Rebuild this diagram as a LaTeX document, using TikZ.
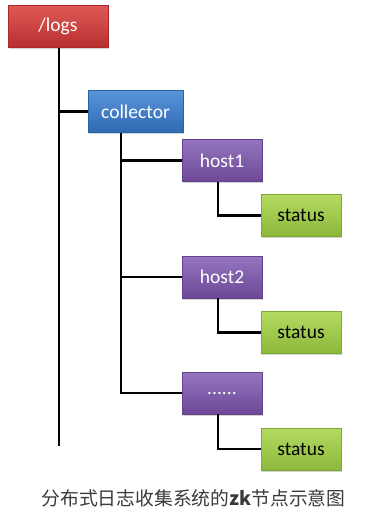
\documentclass[tikz,border=0pt]{standalone}
\usepackage{fontspec}
\setmainfont{Carlito}
\newfontfamily\cjk{Noto Sans CJK SC}
\usetikzlibrary{shadows}
\definecolor{redtop}{HTML}{DE5A55}
\definecolor{redbot}{HTML}{B82E30}
\definecolor{redline}{HTML}{A8292B}
\definecolor{bluetop}{HTML}{5A95DB}
\definecolor{bluebot}{HTML}{2F69B3}
\definecolor{blueline}{HTML}{2C61A6}
\definecolor{purptop}{HTML}{9575C0}
\definecolor{purpbot}{HTML}{6D4896}
\definecolor{purpline}{HTML}{64438A}
\definecolor{greentop}{HTML}{B5DA62}
\definecolor{greenbot}{HTML}{8CB83A}
\definecolor{greenline}{HTML}{7FA935}
\definecolor{captext}{HTML}{3A3A3A}
\tikzset{
  box/.style={rectangle, minimum width=80pt, minimum height=42pt,
    inner sep=0pt, font=\fontsize{19.5}{22}\selectfont, line width=0.8pt,
    drop shadow={shadow xshift=1.2pt, shadow yshift=-1.5pt, opacity=0.35}},
  rootbox/.style={box, minimum width=100pt, top color=redtop, bottom color=redbot, draw=redline, text=white},
  midbox/.style={box, minimum width=95pt, top color=bluetop, bottom color=bluebot, draw=blueline, text=white},
  hostbox/.style={box, top color=purptop, bottom color=purpbot, draw=purpline, text=white},
  leafbox/.style={box, top color=greentop, bottom color=greenbot, draw=greenline, text=black},
  link/.style={line width=2.6pt, black}
}
\begin{document}
\begin{tikzpicture}[x=1pt,y=-1pt]
\useasboundingbox (0,0) rectangle (368,526);
\node[rootbox]  (logs)  at (58,26.5) {/logs};
\node[midbox]   (coll)  at (135.5,111.5) {collector};
\node[hostbox]  (h1)    at (222,160.5) {host1};
\node[leafbox]  (s1)    at (301,215.5) {status};
\node[hostbox]  (h2)    at (222,277) {host2};
\node[leafbox]  (s2)    at (301,332.5) {status};
\node[hostbox]  (h3)    at (222,393) {......};
\node[leafbox]  (s3)    at (301,449) {status};
% branch points under the boxes
\coordinate (trunk)   at ([xshift=1pt]logs.south);
\coordinate (trunkend) at (trunk |- 0,446);
\coordinate (branch)  at ([xshift=-14.5pt]coll.south);
\coordinate (h1b) at ([xshift=-4pt]h1.south);
\coordinate (h2b) at ([xshift=-4pt]h2.south);
\coordinate (h3b) at ([xshift=-4pt]h3.south);
\draw[link] (trunk) -- (trunkend);
\draw[link] (coll.west) -- (coll.west -| trunk);
\draw[link] (branch) |- (h3.west);
\draw[link] (h1.west) -- (h1.west -| branch);
\draw[link] (h2.west) -- (h2.west -| branch);
\draw[link] (h1b) |- (s1.west);
\draw[link] (h2b) |- (s2.west);
\draw[link] (h3b) |- (s3.west);
\node[text=captext, font={\cjk\fontsize{18.8}{22}\selectfont}] (cap) at (193.5,498)
  {分布式日志收集系统的\textbf{zk}节点示意图};
\end{tikzpicture}
\end{document}
